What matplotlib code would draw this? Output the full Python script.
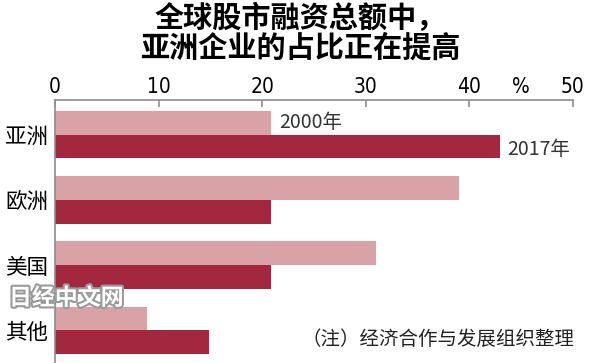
import numpy as np
import matplotlib.pyplot as plt
import matplotlib.patheffects as pe

plt.rcParams['font.family'] = ['Noto Sans CJK SC', 'DejaVu Sans']

regions = ['亚洲', '欧洲', '美国', '其他']
share_2000 = [20.9, 39.0, 31.0, 8.9]
share_2017 = [43.0, 20.9, 20.9, 14.9]
xticks = [0, 10, 20, 30, 40, 50]

light = '#d9a2a7'
dark = '#a3273f'
grey = '#8c8c8c'
num_font = dict(family=['DejaVu Sans'], fontstretch='condensed', fontsize=15)

fig = plt.figure(figsize=(6, 3.63), dpi=100)
ax = fig.add_axes([0.0917, 0.0, 0.863, 0.7245])

ind = np.arange(len(regions))
h = 0.365
ax.barh(ind - h / 2, share_2000, h, color=light, edgecolor='none')
ax.barh(ind + h / 2, share_2017, h, color=dark, edgecolor='none')

ax.set_xlim(0, 50)
ax.set_ylim(3.5, -0.53)

ax.xaxis.tick_top()
ax.set_xticks(xticks)
ax.set_xticklabels([str(t) for t in xticks], **num_font)
# the percent sign sits between 40 and 50 like a tick label
ax.set_xticks([45], ['%'], minor=True, **num_font)
ax.tick_params(axis='x', which='major', direction='in', length=5, width=1.2, color=grey, pad=2.5)
ax.tick_params(axis='x', which='minor', length=0, pad=2.5)
ax.set_yticks(ind)
ax.set_yticklabels(regions, fontsize=15.5)
ax.tick_params(axis='y', length=0, pad=5)

for s in ['right', 'bottom']:
    ax.spines[s].set_visible(False)
for s in ['top', 'left']:
    ax.spines[s].set_color(grey)
    ax.spines[s].set_linewidth(1.2)

# series labels next to the first pair of bars
ax.text(share_2000[0] + 0.7, 0 - h / 2, '2000年', va='center', ha='left', fontsize=14, color='#333333')
ax.text(share_2017[0] + 0.7, 0 + h / 2 + 0.05, '2017年', va='center', ha='left', fontsize=14, color='#333333')

fig.text(0.5, 0.950, '全球股市融资总额中，', ha='center', va='center',
         fontsize=21, fontweight='bold')
fig.text(0.5, 0.868, '亚洲企业的占比正在提高', ha='center', va='center',
         fontsize=21, fontweight='bold')

fig.text(0.958, 0.065, '（注）经济合作与发展组织整理', ha='right', va='center', fontsize=14,
         color='#222222')

# watermark
fig.text(0.015, 0.178, '日经中文网', ha='left', va='center', fontsize=16.5, fontweight='bold',
         color='white', path_effects=[pe.withStroke(linewidth=3, foreground='#9a9a9a')])

fig.savefig('out.png', dpi=100)
